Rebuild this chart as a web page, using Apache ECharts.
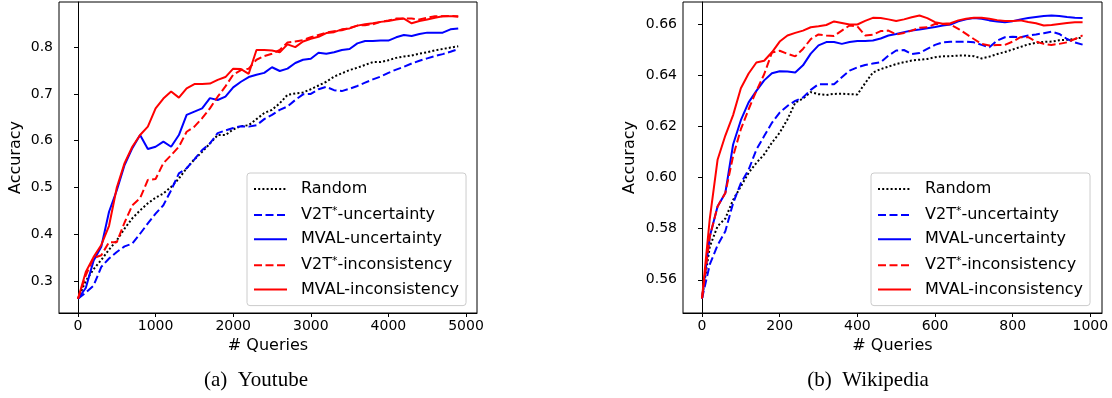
<!DOCTYPE html>
<html>
<head>
<meta charset="utf-8">
<script src="https://cdn.jsdelivr.net/npm/echarts@6/dist/echarts.min.js"></script>
<style>
  html, body { margin: 0; padding: 0; background: #fff; }
  #chart { width: 1112px; height: 398px; }
</style>
</head>
<body>
<div id="chart"></div>
<script>
// ---- data: Youtube (left panel) ----
const ytQueries = [
  0, 100, 200, 300, 400, 500, 600, 700, 800, 900,
  1000, 1100, 1200, 1300, 1400, 1500, 1600, 1700, 1800, 1900,
  2000, 2100, 2200, 2300, 2400, 2500, 2600, 2700, 2800, 2900,
  3000, 3100, 3200, 3300, 3400, 3500, 3600, 3700, 3800, 3900,
  4000, 4100, 4200, 4300, 4400, 4500, 4600, 4700, 4800, 4900
];
const ytRandom = [
  0.262, 0.300, 0.325, 0.345, 0.367, 0.387, 0.412, 0.434, 0.451, 0.466,
  0.478, 0.487, 0.501, 0.519, 0.541, 0.560, 0.576, 0.594, 0.612, 0.612,
  0.624, 0.631, 0.633, 0.646, 0.659, 0.666, 0.680, 0.698, 0.701, 0.703,
  0.710, 0.718, 0.726, 0.737, 0.744, 0.751, 0.756, 0.762, 0.768, 0.768,
  0.772, 0.777, 0.780, 0.782, 0.786, 0.789, 0.793, 0.796, 0.799, 0.802
];
const ytV2tUnc = [
  0.262, 0.275, 0.290, 0.330, 0.348, 0.362, 0.374, 0.380, 0.401, 0.423,
  0.444, 0.462, 0.494, 0.530, 0.541, 0.560, 0.580, 0.594, 0.616, 0.622,
  0.627, 0.631, 0.630, 0.633, 0.646, 0.655, 0.666, 0.673, 0.687, 0.699,
  0.700, 0.710, 0.715, 0.708, 0.706, 0.711, 0.717, 0.724, 0.731, 0.737,
  0.745, 0.752, 0.758, 0.765, 0.771, 0.776, 0.781, 0.785, 0.790, 0.796
];
const ytMvalUnc = [
  0.262, 0.285, 0.343, 0.373, 0.448, 0.494, 0.548, 0.584, 0.612, 0.582,
  0.587, 0.598, 0.587, 0.612, 0.655, 0.662, 0.669, 0.691, 0.687, 0.694,
  0.714, 0.726, 0.736, 0.741, 0.745, 0.757, 0.749, 0.754, 0.766, 0.773,
  0.775, 0.788, 0.786, 0.789, 0.794, 0.796, 0.808, 0.813, 0.813, 0.814,
  0.814, 0.821, 0.826, 0.824, 0.828, 0.831, 0.831, 0.831, 0.838, 0.840
];
const ytV2tInc = [
  0.262, 0.312, 0.349, 0.355, 0.383, 0.383, 0.425, 0.462, 0.477, 0.516,
  0.518, 0.552, 0.569, 0.587, 0.619, 0.630, 0.648, 0.669, 0.694, 0.716,
  0.741, 0.751, 0.754, 0.773, 0.781, 0.786, 0.794, 0.810, 0.812, 0.815,
  0.821, 0.826, 0.831, 0.834, 0.836, 0.841, 0.846, 0.847, 0.849, 0.854,
  0.857, 0.861, 0.861, 0.861, 0.859, 0.863, 0.866, 0.866, 0.867, 0.865
];
const ytMvalInc = [
  0.262, 0.319, 0.351, 0.377, 0.418, 0.500, 0.552, 0.587, 0.612, 0.630,
  0.669, 0.690, 0.705, 0.692, 0.712, 0.721, 0.721, 0.722, 0.730, 0.736,
  0.754, 0.753, 0.743, 0.794, 0.794, 0.793, 0.789, 0.806, 0.800, 0.812,
  0.818, 0.822, 0.830, 0.832, 0.838, 0.840, 0.846, 0.849, 0.851, 0.854,
  0.856, 0.859, 0.861, 0.851, 0.856, 0.859, 0.863, 0.866, 0.866, 0.866
];

// ---- data: Wikipedia (right panel) ----
const wikiQueries = [
  0, 20, 40, 60, 80, 100, 120, 140, 160, 180,
  200, 220, 240, 260, 280, 300, 320, 340, 360, 380,
  400, 420, 440, 460, 480, 500, 520, 540, 560, 580,
  600, 620, 640, 660, 680, 700, 720, 740, 760, 780,
  800, 820, 840, 860, 880, 900, 920, 940, 960, 980
];
const wikiRandom = [
  0.5527, 0.5730, 0.5810, 0.5840, 0.5913, 0.5966, 0.6019, 0.6058, 0.6091, 0.6137,
  0.6176, 0.6228, 0.6294, 0.6310, 0.6335, 0.6327, 0.6324, 0.6328, 0.6329, 0.6327,
  0.6326, 0.6370, 0.6412, 0.6425, 0.6435, 0.6445, 0.6452, 0.6459, 0.6462, 0.6465,
  0.6472, 0.6476, 0.6476, 0.6478, 0.6478, 0.6476, 0.6467, 0.6474, 0.6484, 0.6492,
  0.6502, 0.6512, 0.6522, 0.6528, 0.6532, 0.6533, 0.6538, 0.6540, 0.6543, 0.6550
];
const wikiV2tUnc = [
  0.5527, 0.5660, 0.5735, 0.5790, 0.5900, 0.5979, 0.6031, 0.6110, 0.6163, 0.6215,
  0.6255, 0.6281, 0.6301, 0.6314, 0.6344, 0.6366, 0.6366, 0.6366, 0.6393, 0.6419,
  0.6432, 0.6441, 0.6447, 0.6452, 0.6478, 0.6498, 0.6500, 0.6484, 0.6488, 0.6504,
  0.6520, 0.6530, 0.6532, 0.6532, 0.6533, 0.6530, 0.6520, 0.6511, 0.6537, 0.6550,
  0.6552, 0.6550, 0.6557, 0.6561, 0.6566, 0.6572, 0.6563, 0.6543, 0.6530, 0.6521
];
const wikiMvalUnc = [
  0.5527, 0.5770, 0.5887, 0.5940, 0.6130, 0.6225, 0.6295, 0.6340, 0.6381, 0.6409,
  0.6417, 0.6416, 0.6412, 0.6440, 0.6486, 0.6518, 0.6531, 0.6531, 0.6524, 0.6531,
  0.6535, 0.6535, 0.6537, 0.6545, 0.6557, 0.6563, 0.6570, 0.6576, 0.6580, 0.6585,
  0.6590, 0.6596, 0.6600, 0.6612, 0.6620, 0.6625, 0.6622, 0.6616, 0.6612, 0.6609,
  0.6613, 0.6620, 0.6625, 0.6629, 0.6633, 0.6635, 0.6633, 0.6629, 0.6626, 0.6625
];
const wikiV2tInc = [
  0.5527, 0.5770, 0.5887, 0.5940, 0.6084, 0.6190, 0.6268, 0.6340, 0.6405, 0.6490,
  0.6497, 0.6485, 0.6475, 0.6504, 0.6543, 0.6561, 0.6557, 0.6555, 0.6576, 0.6596,
  0.6593, 0.6557, 0.6560, 0.6574, 0.6576, 0.6561, 0.6567, 0.6576, 0.6587, 0.6589,
  0.6602, 0.6602, 0.6600, 0.6583, 0.6563, 0.6543, 0.6524, 0.6518, 0.6520, 0.6520,
  0.6533, 0.6550, 0.6550, 0.6533, 0.6524, 0.6520, 0.6524, 0.6530, 0.6543, 0.6557
];
const wikiMvalInc = [
  0.5527, 0.5840, 0.6070, 0.6165, 0.6245, 0.6350, 0.6408, 0.6451, 0.6458, 0.6491,
  0.6533, 0.6557, 0.6567, 0.6576, 0.6589, 0.6593, 0.6598, 0.6612, 0.6606, 0.6600,
  0.6600, 0.6614, 0.6626, 0.6625, 0.6620, 0.6614, 0.6620, 0.6628, 0.6635, 0.6625,
  0.6609, 0.6603, 0.6605, 0.6616, 0.6622, 0.6626, 0.6626, 0.6622, 0.6617, 0.6614,
  0.6614, 0.6616, 0.6610, 0.6605, 0.6596, 0.6598, 0.6602, 0.6606, 0.6609, 0.6609
];

// tick labels
const ytXTicks = [0, 1000, 2000, 3000, 4000, 5000];
const ytYTicks = [0.3, 0.4, 0.5, 0.6, 0.7, 0.8];
const wikiXTicks = [0, 200, 400, 600, 800, 1000];
const wikiYTicks = [0.56, 0.58, 0.60, 0.62, 0.64, 0.66];

const names = ['Random', 'V2T*-uncertainty', 'MVAL-uncertainty', 'V2T*-inconsistency', 'MVAL-inconsistency'];

const FONT = 'DejaVu Sans';

// line look per method (matplotlib-like)
const styles = {
  'Random': { color: '#000000', type: [2, 2.2] },
  'V2T*-uncertainty': { color: '#0000ff', type: [8, 3.5] },
  'MVAL-uncertainty': { color: '#0000ff', type: 'solid' },
  'V2T*-inconsistency': { color: '#ff0000', type: [8, 3.5] },
  'MVAL-inconsistency': { color: '#ff0000', type: 'solid' }
};

const zip = (xs, ys) => xs.map((x, i) => [x, ys[i]]);

function makeSeries(name, xs, ys, idx) {
  const s = styles[name];
  return {
    name: name,
    type: 'line',
    xAxisIndex: idx,
    yAxisIndex: idx,
    symbol: 'none',
    showSymbol: false,
    color: s.color,
    lineStyle: { color: s.color, width: 2, type: s.type },
    itemStyle: { color: s.color },
    emphasis: { disabled: true },
    data: zip(xs, ys)
  };
}

function xAxisOf(idx, min, max, ticks) {
  return {
    gridIndex: idx,
    type: 'value',
    min: min,
    max: max,
    name: '# Queries',
    nameLocation: 'middle',
    nameGap: 24,
    nameTextStyle: { fontFamily: FONT, fontSize: 16, color: '#000' },
    axisLine: { show: true, lineStyle: { color: '#000', width: 1 } },
    axisTick: { show: true, length: 4, lineStyle: { color: '#000' }, customValues: ticks },
    axisLabel: {
      fontFamily: FONT, fontSize: 14, color: '#000', margin: 6, customValues: ticks,
      formatter: v => String(v)
    },
    splitLine: { show: false }
  };
}

function yAxisOf(idx, min, max, ticks, digits, gap) {
  return {
    gridIndex: idx,
    type: 'value',
    min: min,
    max: max,
    name: 'Accuracy',
    nameLocation: 'middle',
    nameGap: gap,
    nameTextStyle: { fontFamily: FONT, fontSize: 16, color: '#000' },
    axisLine: { show: true, lineStyle: { color: '#000', width: 1 } },
    axisTick: { show: true, length: 4, lineStyle: { color: '#000' }, customValues: ticks },
    axisLabel: {
      fontFamily: FONT, fontSize: 14, color: '#000', margin: 6, customValues: ticks,
      formatter: v => v.toFixed(digits)
    },
    splitLine: { show: false }
  };
}

function legendOf(left) {
  return {
    data: names,
    orient: 'vertical',
    left: left,
    top: 173,
    itemWidth: 33,
    itemHeight: 14,
    itemGap: 8.4,
    padding: [8, 7, 8, 6],
    backgroundColor: 'rgba(255,255,255,0.8)',
    borderColor: '#cccccc',
    borderWidth: 1,
    borderRadius: 3,
    selectedMode: false,
    itemStyle: { opacity: 0 },
    formatter: name => {
      if (name.indexOf('V2T*') === 0) {
        return '{t|V2T}{s|*}{t|' + name.slice(4) + '}';
      }
      return '{t|' + name + '}';
    },
    textStyle: {
      fontFamily: FONT, fontSize: 16, color: '#000', padding: [0, 0, 0, 9],
      rich: {
        t: { fontFamily: FONT, fontSize: 16, color: '#000' },
        s: { fontFamily: FONT, fontSize: 11, color: '#000', padding: [0, 0, 8, 0] }
      }
    }
  };
}

const chart = echarts.init(document.getElementById('chart'), null, { renderer: 'canvas' });

const option = {
  animation: false,
  backgroundColor: '#ffffff',
  grid: [
    { left: 59, top: 2, width: 418, height: 311, show: true, borderColor: '#000', borderWidth: 1, backgroundColor: 'transparent' },
    { left: 683, top: 2, width: 419, height: 311, show: true, borderColor: '#000', borderWidth: 1, backgroundColor: 'transparent' }
  ],
  xAxis: [
    xAxisOf(0, -245, 5142, ytXTicks),
    xAxisOf(1, -49, 1030, wikiXTicks)
  ],
  yAxis: [
    yAxisOf(0, 0.2315, 0.8965, ytYTicks, 1, 35),
    yAxisOf(1, 0.547, 0.6688, wikiYTicks, 2, 45)
  ],
  legend: [legendOf(247), legendOf(871)],
  graphic: [
    {
      type: 'text', x: 256, y: 380,
      style: { text: '(a)  Youtube', font: '21px "Liberation Serif"', fill: '#000', textAlign: 'center', textVerticalAlign: 'middle' }
    },
    {
      type: 'text', x: 868, y: 380,
      style: { text: '(b)  Wikipedia', font: '21px "Liberation Serif"', fill: '#000', textAlign: 'center', textVerticalAlign: 'middle' }
    }
  ],
  series: [
    makeSeries('Random', ytQueries, ytRandom, 0),
    makeSeries('V2T*-uncertainty', ytQueries, ytV2tUnc, 0),
    makeSeries('MVAL-uncertainty', ytQueries, ytMvalUnc, 0),
    makeSeries('V2T*-inconsistency', ytQueries, ytV2tInc, 0),
    makeSeries('MVAL-inconsistency', ytQueries, ytMvalInc, 0),
    makeSeries('Random', wikiQueries, wikiRandom, 1),
    makeSeries('V2T*-uncertainty', wikiQueries, wikiV2tUnc, 1),
    makeSeries('MVAL-uncertainty', wikiQueries, wikiMvalUnc, 1),
    makeSeries('V2T*-inconsistency', wikiQueries, wikiV2tInc, 1),
    makeSeries('MVAL-inconsistency', wikiQueries, wikiMvalInc, 1)
  ]
};

chart.setOption(option);
window.addEventListener('resize', () => chart.resize());
</script>
</body>
</html>
